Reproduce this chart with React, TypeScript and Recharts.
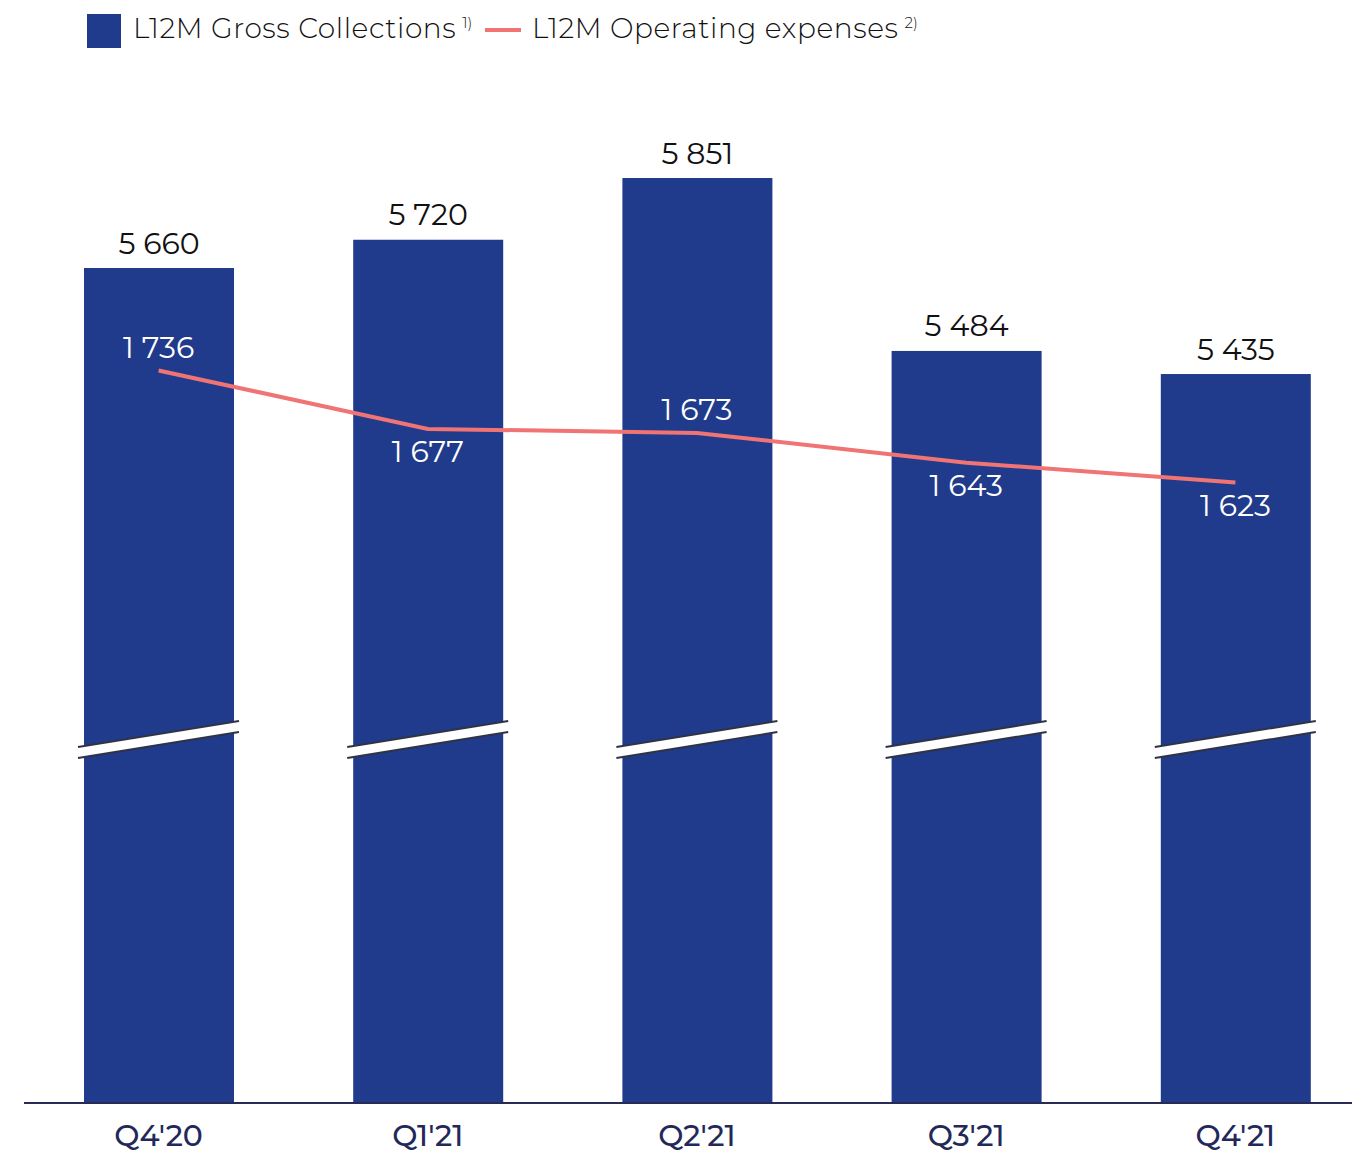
import React from 'react';
import { ComposedChart, Bar, Line, XAxis, YAxis, LabelList } from 'recharts';

const quarters = ["Q4'20", "Q1'21", "Q2'21", "Q3'21", "Q4'21"];
const grossCollections = [5660, 5720, 5851, 5484, 5435];
const operatingExpenses = [1736, 1677, 1673, 1643, 1623];

// where each opex label sits relative to its point
const opexLabelSide = ['top', 'bottom', 'top', 'bottom', 'bottom'];

const NAVY = '#213B8C';
const CORAL = '#F07474';
const FONT = "Montserrat, 'Open Sans', sans-serif";

const chartData = quarters.map((q, i) => ({
  quarter: q,
  gross: grossCollections[i],
  opex: operatingExpenses[i],
}));

const fmt = (v: number) => String(v).replace(/\B(?=(\d{3})+(?!\d))/g, ' ');

// bar with the white "axis break" band drawn across it
const BrokenBar = (props: any) => {
  const { x, y, width, height, fill } = props;
  const base = y + height;
  const c = base - 363.5;
  const xl = x - 6;
  const xr = x + width + 5;
  const h = 13;
  const t = 5.5;
  return (
    <g>
      <rect x={x} y={y} width={width} height={height} fill={fill} />
      <polygon
        points={`${xl},${c + h - t} ${xr},${c - h - t} ${xr},${c - h + t} ${xl},${c + h + t}`}
        fill="#fff"
      />
      <line x1={xl} y1={c + h - t} x2={xr} y2={c - h - t} stroke="#2f3346" strokeWidth={2} />
      <line x1={xl} y1={c + h + t} x2={xr} y2={c - h + t} stroke="#2f3346" strokeWidth={2} />
    </g>
  );
};

const GrossLabel = (props: any) => {
  const { x, y, width, value } = props;
  return (
    <text
      x={x + width / 2}
      y={y - 25}
      textAnchor="middle"
      dominantBaseline="central"
      fill="#111"
      fontSize={30}
      fontFamily={FONT}
    >
      {fmt(value)}
    </text>
  );
};

const OpexLabel = (props: any) => {
  const { x, y, value, index } = props;
  const dy = opexLabelSide[index] === 'top' ? -23 : 23;
  return (
    <text
      x={x}
      y={y + dy}
      textAnchor="middle"
      dominantBaseline="central"
      fill="#fff"
      fontSize={30}
      fontFamily={FONT}
    >
      {fmt(value)}
    </text>
  );
};

const Legend = () => (
  <div style={{ position: 'absolute', top: 0, left: 0, fontFamily: FONT, fontSize: 28, fontWeight: 300, letterSpacing: 0.6, color: '#111' }}>
    <div style={{ position: 'absolute', left: 79, top: 6, width: 34, height: 34, background: NAVY }} />
    <div style={{ position: 'absolute', left: 125, top: 3, whiteSpace: 'nowrap' }}>
      L12M Gross Collections<sup style={{ fontSize: 15, marginLeft: 6, letterSpacing: 0 }}>1)</sup>
    </div>
    <div style={{ position: 'absolute', left: 477, top: 20, width: 36, height: 4, background: CORAL }} />
    <div style={{ position: 'absolute', left: 524, top: 3, whiteSpace: 'nowrap' }}>
      L12M Operating expenses<sup style={{ fontSize: 15, marginLeft: 6, letterSpacing: 0 }}>2)</sup>
    </div>
  </div>
);

export default function App() {
  return (
    <div style={{ position: 'relative', width: 1352, height: 1143, overflow: 'hidden', background: '#fff' }}>
      <Legend />
      <ComposedChart
        width={1362}
        height={1143}
        data={chartData}
        margin={{ top: 72, right: 0, bottom: 0, left: 16 }}
      >
        <XAxis
          dataKey="quarter"
          axisLine={{ stroke: '#272b55', strokeWidth: 2 }}
          tickLine={false}
          tickMargin={16}
          height={48}
          tick={{ fill: '#23285a', fontSize: 30, fontWeight: 500, fontFamily: FONT }}
        />
        <YAxis yAxisId="bars" hide domain={[3888, 6059]} allowDataOverflow />
        <YAxis yAxisId="line" hide orientation="right" domain={[997, 2029]} allowDataOverflow />
        <Bar yAxisId="bars" dataKey="gross" fill={NAVY} barSize={150} shape={<BrokenBar />} isAnimationActive={false}>
          <LabelList dataKey="gross" content={<GrossLabel />} />
        </Bar>
        <Line
          yAxisId="line"
          dataKey="opex"
          stroke={CORAL}
          strokeWidth={4}
          dot={false}
          activeDot={false}
          type="linear"
          isAnimationActive={false}
        >
          <LabelList dataKey="opex" content={<OpexLabel />} />
        </Line>
      </ComposedChart>
    </div>
  );
}
